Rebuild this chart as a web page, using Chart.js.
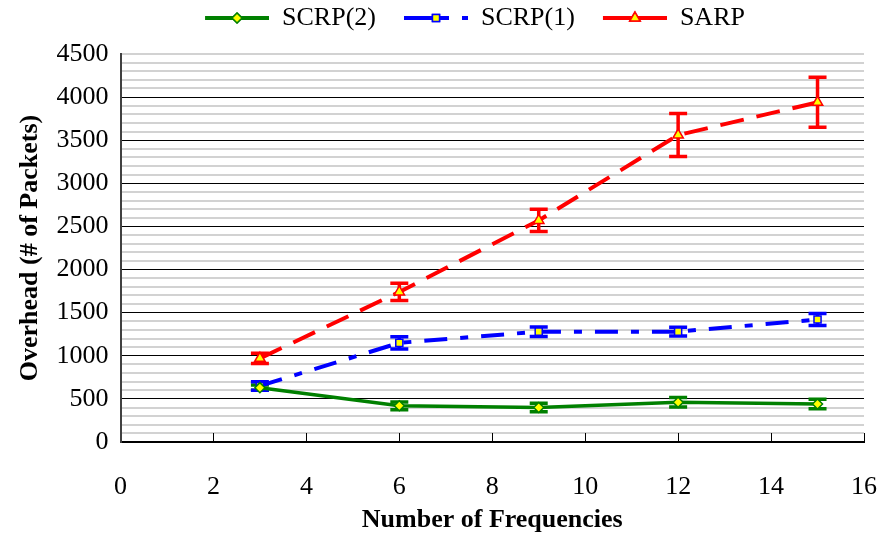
<!DOCTYPE html>
<html lang="en">
<head>
<meta charset="UTF-8">
<title>Overhead vs Number of Frequencies</title>
<script src="https://cdn.jsdelivr.net/npm/chart.js"></script>
<style>
  html, body { margin: 0; padding: 0; background: #fff; }
  #wrap { width: 882px; height: 539px; }
</style>
</head>
<body>
<div id="wrap"><canvas id="OverheadChart"></canvas></div>
<script>
// Values
const frequencies = [3, 6, 9, 12, 15];
const scrp2 = [630, 420, 400, 460, 440];
const scrp2Err = [30, 45, 50, 55, 55];
const scrp1 = [650, 1150, 1280, 1280, 1420];
const scrp1Err = [50, 70, 55, 50, 70];
const sarp = [970, 1740, 2570, 3560, 3940];
const sarpErr = [60, 100, 130, 250, 290];

const xTickValues = [0, 2, 4, 6, 8, 10, 12, 14, 16];
const yTickLabels = [0, 500, 1000, 1500, 2000, 2500, 3000, 3500, 4000, 4500];

const FONT = "'Liberation Serif', 'Times New Roman', serif";
Chart.defaults.font.family = FONT;
Chart.defaults.font.size = 26;
Chart.defaults.color = '#000';

const series = [
  { label: 'SCRP(2)', values: scrp2, errors: scrp2Err, color: '#008000', width: 3.5, dash: [], legendDash: [], marker: 'rectRot', radius: 5 },
  { label: 'SCRP(1)', values: scrp1, errors: scrp1Err, color: '#0000ff', width: 4, dash: [23, 13, 8, 13], legendDash: [45, 13, 7, 100], marker: 'rect', radius: 5 },
  { label: 'SARP', values: sarp, errors: sarpErr, color: '#ff0000', width: 4, dash: [24, 13], legendDash: [], marker: 'triangle', radius: 6 }
];

// legend icon: line sample with the marker in the middle (left gap = spacing between items)
const ICON_GAP = 23;
const ICON_W = 87;
function makeIcon(s) {
  const c = document.createElement('canvas');
  c.width = ICON_W; c.height = 20;
  const g = c.getContext('2d');
  g.strokeStyle = s.color;
  g.lineWidth = 4;
  g.setLineDash(s.legendDash);
  g.beginPath();
  g.moveTo(ICON_GAP, 10);
  g.lineTo(ICON_W, 10);
  g.stroke();
  g.setLineDash([]);
  g.fillStyle = '#ffff00';
  g.lineWidth = 1.5;
  Chart.helpers.drawPoint(g, { pointStyle: s.marker, radius: s.radius, rotation: 0, borderWidth: 1.5 }, ICON_GAP + (ICON_W - ICON_GAP) / 2, 10);
  g.fill();
  g.stroke();
  return c;
}
const legendIcons = series.map(makeIcon);

const datasets = series.map(s => ({
  label: s.label,
  data: frequencies.map((f, i) => ({ x: f, y: s.values[i] })),
  errors: s.errors,
  borderColor: s.color,
  backgroundColor: s.color,
  borderWidth: s.width,
  borderDash: s.dash,
  tension: 0,
  pointStyle: s.marker,
  pointRadius: s.radius,
  pointBackgroundColor: '#ffff00',
  pointBorderColor: s.color,
  pointBorderWidth: 1.5
}));

const errorBars = {
  id: 'errorBars',
  beforeDatasetsDraw(chart) {
    const { ctx, scales: { x, y } } = chart;
    chart.data.datasets.forEach(ds => {
      ctx.save();
      ctx.strokeStyle = ds.borderColor;
      ctx.lineWidth = 3.5;
      ds.data.forEach((p, j) => {
        const px = x.getPixelForValue(p.x);
        const top = y.getPixelForValue(p.y + ds.errors[j]);
        const bot = y.getPixelForValue(p.y - ds.errors[j]);
        ctx.beginPath();
        ctx.moveTo(px, top); ctx.lineTo(px, bot);
        ctx.moveTo(px - 9, top); ctx.lineTo(px + 9, top);
        ctx.moveTo(px - 9, bot); ctx.lineTo(px + 9, bot);
        ctx.stroke();
      });
      ctx.restore();
    });
  },
  afterDraw(chart) {
    // x tick marks point up into the plot
    const { ctx, scales: { x, y } } = chart;
    ctx.save();
    ctx.strokeStyle = '#000';
    ctx.lineWidth = 1;
    xTickValues.slice(1).forEach(v => {
      const px = Math.round(x.getPixelForValue(v)) + 0.5;
      ctx.beginPath();
      ctx.moveTo(px, y.bottom);
      ctx.lineTo(px, y.bottom - 9);
      ctx.stroke();
    });
    ctx.restore();
  }
};

new Chart(document.getElementById('OverheadChart'), {
  type: 'line',
  data: { datasets },
  options: {
    responsive: true,
    maintainAspectRatio: false,
    animation: false,
    layout: { padding: { left: 50, right: 5, top: 0, bottom: 0 } },
    plugins: {
      tooltip: { enabled: false },
      legend: {
        position: 'top',
        labels: {
          usePointStyle: true,
          pointStyleWidth: ICON_W,
          padding: 5,
          font: { size: 26 },
          generateLabels(chart) {
            const items = Chart.defaults.plugins.legend.labels.generateLabels(chart);
            items.forEach((it, i) => { it.pointStyle = legendIcons[i]; });
            return items;
          }
        }
      },
      // empty title used as a spacer between legend and plot
      title: {
        display: true,
        text: '',
        weight: 500,
        padding: 0,
        font: { size: 10, lineHeight: 1.3 }
      }
    },
    scales: {
      x: {
        type: 'linear',
        min: 0,
        max: 16,
        ticks: { stepSize: 2, padding: 30 },
        grid: { display: false, drawTicks: false },
        border: { display: true, color: '#000', width: 2 },
        title: {
          display: true,
          text: 'Number of Frequencies',
          font: { size: 26, weight: 'bold' },
          padding: { top: 0, bottom: 3 }
        },
        afterFit(scale) {
          scale.height = 97;
          scale.paddingLeft = 0;
          scale.paddingRight = 18;
        }
      },
      y: {
        min: 0,
        max: 4500,
        ticks: {
          stepSize: 100,
          autoSkip: false,
          padding: 12,
          callback: v => (yTickLabels.includes(v) ? String(v) : '')
        },
        grid: {
          drawTicks: false,
          color: c => (c.tick.value === 0 ? 'rgba(0,0,0,0)' : (c.tick.value % 500 === 0 && c.tick.value < 4500 ? '#000' : '#d2d2d2')),
          lineWidth: c => (c.tick.value % 500 === 0 && c.tick.value < 4500 ? 1 : 2)
        },
        border: { display: true, color: '#404040', width: 2 },
        title: {
          display: true,
          text: 'Overhead (# of Packets)',
          font: { size: 26, weight: 'bold' },
          padding: { top: -35.6, bottom: 0 }
        },
        afterFit(scale) { scale.width = 70.5; }
      }
    }
  },
  plugins: [errorBars]
});
</script>
</body>
</html>
